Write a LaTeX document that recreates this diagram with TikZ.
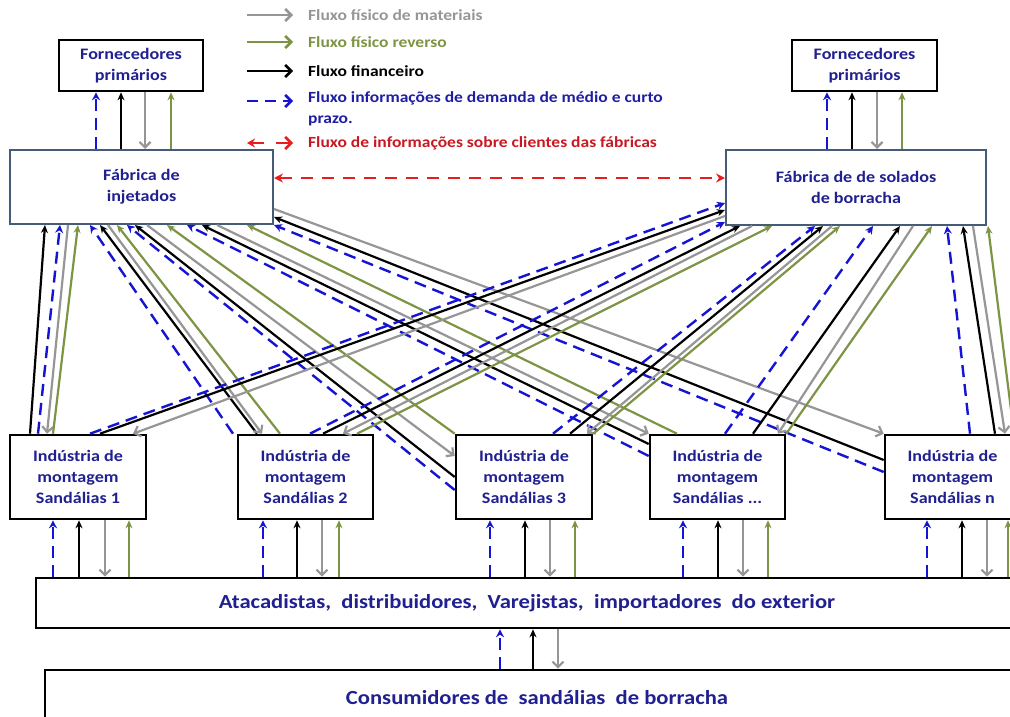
\documentclass[tikz,border=0pt]{standalone}
\usepackage{fontspec}
\setmainfont{Carlito}[FakeStretch=1.13]
\usetikzlibrary{arrows.meta}
\definecolor{txtblue}{RGB}{32,32,145}
\definecolor{lgray}{RGB}{150,150,150}
\definecolor{lgreen}{RGB}{125,148,68}
\definecolor{dblue}{RGB}{20,20,210}
\definecolor{lred}{RGB}{232,30,30}
\definecolor{legred}{RGB}{200,25,35}
\definecolor{legblue}{RGB}{30,30,165}
\definecolor{framec}{RGB}{70,92,118}
\begin{document}
\begin{tikzpicture}[x=1pt,y=-1pt,
  box/.style={draw=black, line width=2.6pt, fill=white, inner sep=0pt, align=center,
    text=txtblue, font=\bfseries\fontsize{16}{21}\selectfont},
  fab/.style={box, draw=framec, line width=2pt},
  wide/.style={box, font=\bfseries\fontsize{20}{24}\selectfont},
  gr/.style={draw=lgray, line width=2.2pt, -{Straight Barb[length=5.5pt,width=11pt]}},
  bk/.style={draw=black, line width=2.2pt, -{Stealth[length=8pt,width=7pt]}},
  gn/.style={draw=lgreen, line width=2.2pt, -{Stealth[length=8pt,width=7pt]}},
  bl/.style={draw=dblue, line width=2.4pt, dash pattern=on 12pt off 7pt, -{Stealth[length=8pt,width=8pt]}},
  rd/.style={draw=lred, line width=2.2pt, dash pattern=on 12pt off 9pt, {Stealth[length=9pt,width=9pt]}-{Stealth[length=9pt,width=9pt]}},
  legtxt/.style={anchor=west, inner sep=0pt, align=left, font=\bfseries\fontsize{15.5}{21}\selectfont}
]
\path[use as bounding box, clip] (0,0) rectangle (1010,717);
\fill[white] (0,0) rectangle (1010,717);

% ---------- boxes
\node[box, minimum width=144pt, minimum height=51pt] (fpL) at (131,65.5) {Fornecedores\\primários};
\node[box, minimum width=145pt, minimum height=51pt] (fpR) at (864.5,65.5) {Fornecedores\\primários};
\node[fab, minimum width=263pt, minimum height=74pt] (fi) at (141.5,187) {Fábrica de\\injetados};
\node[fab, minimum width=260pt, minimum height=75pt] (fs) at (856,187.5) {Fábrica de de solados\\de borracha};
\node[box, minimum width=136pt, minimum height=84pt] (b1) at (78,477) {Indústria de\\montagem\\Sandálias 1};
\node[box, minimum width=135pt, minimum height=84pt] (b2) at (305.5,477) {Indústria de\\montagem\\Sandálias 2};
\node[box, minimum width=136pt, minimum height=84pt] (b3) at (524,477) {Indústria de\\montagem\\Sandálias 3};
\node[box, minimum width=135pt, minimum height=84pt] (b4) at (717.5,477) {Indústria de\\montagem\\Sandálias ...};
\node[box, minimum width=135pt, minimum height=84pt] (b5) at (952.5,477) {Indústria de\\montagem\\Sandálias n};
\node[wide, minimum width=982pt, minimum height=50pt] (at) at (527,603) {Atacadistas,\ \ distribuidores,\ \ Varejistas,\ \ importadores\ \ do exterior};
\node[wide, minimum width=984pt, minimum height=56pt] (co) at (537,698) {Consumidores de\ \ sandálias\ \ de borracha};

% ---------- legend
\coordinate (l1a) at (247,15);  \coordinate (l1b) at (293,15);
\coordinate (l2a) at (247,42);  \coordinate (l2b) at (293,42);
\coordinate (l3a) at (247,71);  \coordinate (l3b) at (293,71);
\coordinate (l4a) at (247,101); \coordinate (l4b) at (293,101);
\coordinate (l5a) at (247,143); \coordinate (l5m) at (264,143);
\coordinate (l5n) at (276,143); \coordinate (l5b) at (293,143);
\draw[gr, line width=2.6pt, -{Straight Barb[length=6pt,width=12pt]}] (l1a) -- (l1b);
\draw[gn, line width=2.6pt, -{Straight Barb[length=6pt,width=12pt]}] (l2a) -- (l2b);
\draw[bk, line width=2.6pt, -{Straight Barb[length=6pt,width=12pt]}] (l3a) -- (l3b);
\draw[bl, line width=2.6pt, dash pattern=on 11pt off 7pt, -{Straight Barb[length=6pt,width=12pt]}] (l4a) -- (l4b);
\draw[draw=lred, line width=2.6pt, -{Stealth[length=8pt,width=9pt]}] (l5m) -- (l5a);
\draw[draw=lred, line width=2.6pt, -{Straight Barb[length=6pt,width=12pt]}] (l5n) -- (l5b);
\node[legtxt, text=lgray] (t1) at (308,15) {Fluxo físico de materiais};
\node[legtxt, text=lgreen] (t2) at (308,42) {Fluxo físico reverso};
\node[legtxt, text=black] (t3) at (308,71) {Fluxo financeiro};
\node[legtxt, text=legblue, anchor=north west] (t4) at (308,91) {Fluxo informações de demanda de médio e curto\\prazo.};
\node[legtxt, text=legred] (t5) at (308,143) {Fluxo de informações sobre clientes das fábricas};

% ---------- supplier links
\draw[bl] (fi.north -| 96,0) -- (fpL.south -| 96,0);
\draw[bk] (fi.north -| 121,0) -- (fpL.south -| 121,0);
\draw[gr] (fpL.south -| 145,0) -- (fi.north -| 145,0);
\draw[gn] (fi.north -| 171,0) -- (fpL.south -| 171,0);
\draw[bl] (fs.north -| 827,0) -- (fpR.south -| 827,0);
\draw[bk] (fs.north -| 852,0) -- (fpR.south -| 852,0);
\draw[gr] (fpR.south -| 877,0) -- (fs.north -| 877,0);
\draw[gn] (fs.north -| 902,0) -- (fpR.south -| 902,0);

% ---------- factories info link
\draw[rd] (fi.east |- 0,178) -- (fs.west |- 0,178);

% ---------- industries <-> injetados
\draw[bk] (b1.north -| 30,0) -- (fi.south -| 45,0);
\draw[bl] (b1.north -| 38,0) -- (fi.south -| 60,0);
\draw[gr] (fi.south -| 68,0) -- (b1.north -| 47,0);
\draw[gn] (b1.north -| 53,0) -- (fi.south -| 78,0);

\draw[bl] (b2.north -| 233,0) -- (fi.south -| 90,0);
\draw[bk] (b2.north -| 257,0) -- (fi.south -| 100,0);
\draw[gr] (fi.south -| 108,0) -- (b2.north -| 262,0);
\draw[gn] (b2.north -| 280,0) -- (fi.south -| 117,0);

\draw[bl] (b3.west |- 0,490) -- (fi.south -| 127,0);
\draw[bk] (b3.west |- 0,477) -- (fi.south -| 135,0);
\draw[gr] (fi.south -| 147,0) -- (b3.west |- 0,456);
\draw[gn] (b3.north west) -- (fi.south -| 167,0);

\draw[bl] (b4.west |- 0,456) -- (fi.south -| 187,0);
\draw[bk] (b4.west |- 0,444) -- (fi.south -| 202,0);
\draw[gr] (fi.south -| 217,0) -- (b4.north west);
\draw[gn] (b4.north -| 677,0) -- (fi.south -| 247,0);

\draw[gr] (fi.east |- 0,209) -- (b5.north west);
\draw[bk] (b5.west |- 0,460) -- (fi.east |- 0,217);
\draw[bl] (b5.west |- 0,472) -- (fi.south east);

% ---------- industries <-> solados
\draw[bl] (b1.north -| 90,0) -- (fs.west |- 0,203);
\draw[bk] (b1.north -| 100,0) -- (fs.west |- 0,210);
\draw[gr] (fs.west |- 0,216) -- (b1.north -| 133,0);

\draw[bl] (b2.north -| 310,0) -- (fs.west |- 0,222);
\draw[bk] (b2.north -| 323,0) -- (fs.south -| 740,0);
\draw[gr] (fs.south -| 752,0) -- (b2.north -| 343,0);
\draw[gn] (b2.north -| 357,0) -- (fs.south -| 772,0);

\draw[bl] (b3.north -| 553,0) -- (fs.south -| 815,0);
\draw[bk] (b3.north -| 570,0) -- (fs.south -| 823,0);
\draw[gr] (fs.south -| 832,0) -- (b3.north -| 587,0);
\draw[gn] (b3.north east) -- (fs.south -| 840,0);

\draw[bl] (b4.north -| 725,0) -- (fs.south -| 873,0);
\draw[bk] (b4.north -| 753,0) -- (fs.south -| 900,0);
\draw[gr] (fs.south -| 913,0) -- (b4.north -| 778,0);
\draw[gn] (b4.north east) -- (fs.south -| 932,0);

\draw[bl] (b5.north -| 970,0) -- (fs.south -| 947,0);
\draw[bk] (b5.north -| 995,0) -- (fs.south -| 963,0);
\draw[gr] (fs.south -| 973,0) -- (b5.north -| 1005,0);
\draw[gn] (b5.north -| 1014,0) -- (fs.south -| 988,0);

% ---------- industries <-> atacadistas
\foreach \n/\xa/\xb/\xc/\xd in {b1/53/79/105/129, b2/263/297/322/339, b3/490/525/550/575, b4/683/718/743/768, b5/927/962/987/1008}{
  \draw[bl] (at.north -| \xa,0) -- (\n.south -| \xa,0);
  \draw[bk] (at.north -| \xb,0) -- (\n.south -| \xb,0);
  \draw[gr] (\n.south -| \xc,0) -- (at.north -| \xc,0);
  \draw[gn] (at.north -| \xd,0) -- (\n.south -| \xd,0);
}

% ---------- atacadistas <-> consumidores
\draw[bl] (co.north -| 500,0) -- (at.south -| 500,0);
\draw[bk] (co.north -| 533,0) -- (at.south -| 533,0);
\draw[gr] (at.south -| 558,0) -- (co.north -| 558,0);
\end{tikzpicture}
\end{document}
